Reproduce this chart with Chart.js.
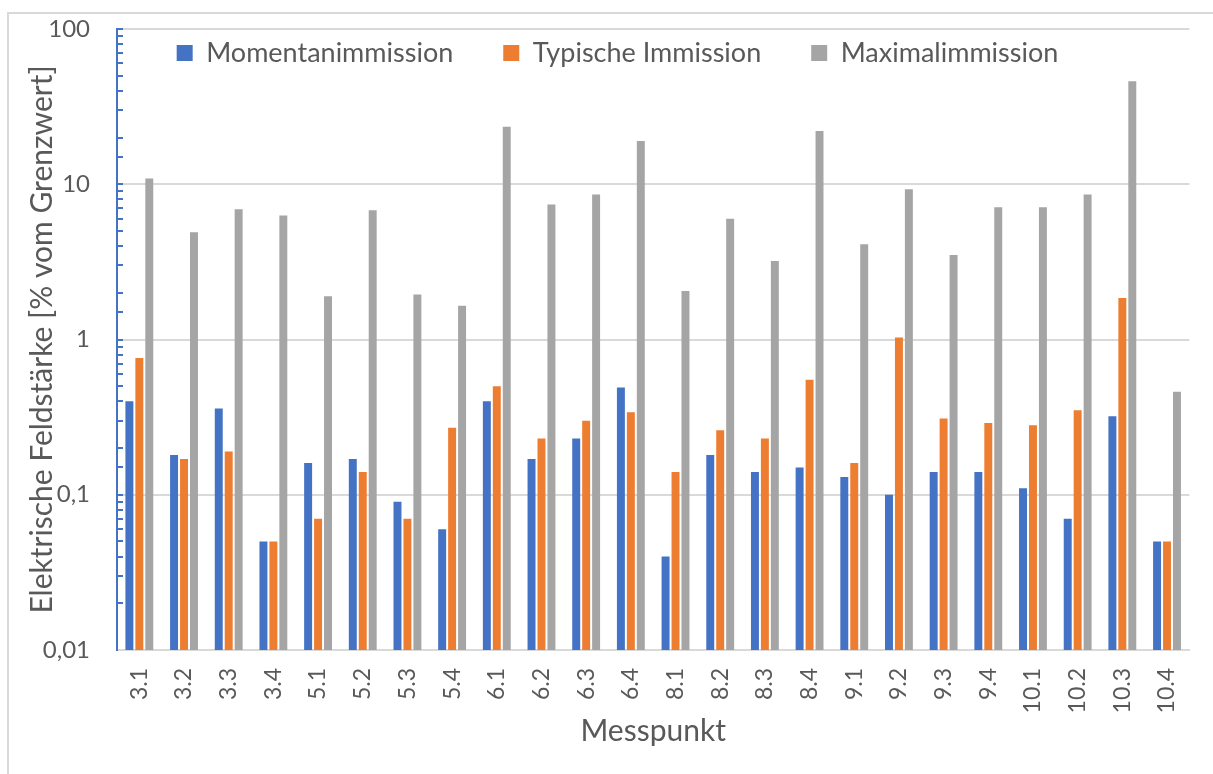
<!DOCTYPE html>
<html>
<head>
<meta charset="utf-8">
<script src="https://cdn.jsdelivr.net/npm/chart.js@4/dist/chart.umd.min.js"></script>
<style>
  body { margin: 0; background: #fff; }
  #frame {
    position: absolute; left: 7px; top: 12px; width: 1300px; height: 900px;
    border: 2px solid #d9d9d9; box-sizing: border-box;
  }
  #wrap { position: absolute; left: 0; top: 0; width: 1213px; height: 774px; }
</style>
</head>
<body>
<div id="frame"></div>
<div id="wrap"><canvas id="myChart"></canvas></div>
<script>
const labels = ["3.1", "3.2", "3.3", "3.4", "5.1", "5.2", "5.3", "5.4", "6.1", "6.2", "6.3", "6.4",
  "8.1", "8.2", "8.3", "8.4", "9.1", "9.2", "9.3", "9.4", "10.1", "10.2", "10.3", "10.4"];

const momentan = [0.4, 0.18, 0.36, 0.05, 0.16, 0.17, 0.09, 0.06, 0.4, 0.17, 0.23, 0.49,
  0.04, 0.18, 0.14, 0.15, 0.13, 0.1, 0.14, 0.14, 0.11, 0.07, 0.32, 0.05];
const typisch = [0.76, 0.17, 0.19, 0.05, 0.07, 0.14, 0.07, 0.27, 0.5, 0.23, 0.3, 0.34,
  0.14, 0.26, 0.23, 0.55, 0.16, 1.03, 0.31, 0.29, 0.28, 0.35, 1.85, 0.05];
const maximal = [10.9, 4.9, 6.9, 6.3, 1.9, 6.8, 1.95, 1.65, 23.5, 7.4, 8.6, 19,
  2.05, 6.0, 3.2, 22, 4.1, 9.3, 3.5, 7.1, 7.1, 8.6, 46, 0.46];

const yMin = 0.01;
const yMax = 100;

const textColor = "#595959";
const fontFamily = "Lato";

function isDecade(v) {
  const l = Math.log10(v);
  return Math.abs(l - Math.round(l)) < 1e-6;
}

// legend sits inside the plot area, so it takes no room in the layout
const legendInside = {
  id: "legendInside",
  beforeLayout(chart) {
    const lg = chart.legend;
    if (lg && !lg._patched) {
      const fit = lg.fit;
      lg.fit = function () {
        fit.call(this);
        this._realH = this.height;
        this.height = 0;
      };
      lg._patched = true;
    }
  },
  afterLayout(chart) {
    const lg = chart.legend;
    const pad = lg.options.labels.padding;
    const size = lg.options.labels.font.size;
    lg.left = 22;
    lg.right = 1213;
    lg.top = 53 - pad - size / 2;
    lg.height = lg._realH;
    lg.bottom = lg.top + lg.height;
    if (lg.adjustHitBoxes) lg.adjustHitBoxes();
  },
};

const data = {
  labels: labels,
  datasets: [
    { label: "Momentanimmission", data: momentan, backgroundColor: "#4472C4" },
    { label: "Typische Immission", data: typisch, backgroundColor: "#ED7D31" },
    { label: "Maximalimmission", data: maximal, backgroundColor: "#A5A5A5" },
  ],
};

const config = {
  type: "bar",
  data: data,
  plugins: [legendInside],
  options: {
    responsive: true,
    maintainAspectRatio: false,
    animation: false,
    datasets: {
      bar: { categoryPercentage: 0.668, barPercentage: 0.8 },
    },
    layout: { padding: { left: 0, right: 18, top: 0, bottom: 0 } },
    plugins: {
      legend: {
        position: "top",
        labels: {
          color: textColor,
          font: { family: fontFamily, size: 27 },
          boxWidth: 16,
          boxHeight: 16,
          padding: 50,
        },
      },
      tooltip: { enabled: false },
    },
    scales: {
      x: {
        grid: { drawOnChartArea: false, drawTicks: false },
        border: { display: true, color: "#d9d9d9", width: 2 },
        ticks: {
          color: textColor,
          font: { family: fontFamily, size: 23 },
          minRotation: 90,
          maxRotation: 90,
          autoSkip: false,
          padding: 18,
        },
        title: {
          display: true,
          text: "Messpunkt",
          color: textColor,
          font: { family: fontFamily, size: 30 },
          padding: { top: 25, bottom: 25 },
        },
        afterFit(scale) {
          scale.height = 124;
        },
      },
      y: {
        type: "logarithmic",
        min: yMin,
        max: yMax,
        grid: {
          color: (ctx) => (ctx.tick && isDecade(ctx.tick.value) ? "#d9d9d9" : "rgba(0,0,0,0)"),
          lineWidth: 2,
          tickColor: "#4472C4",
          tickLength: -6,
        },
        border: { display: true, color: "#4472C4", width: 2 },
        ticks: {
          color: textColor,
          font: { family: fontFamily, size: 24 },
          autoSkip: false,
          padding: 33,
          callback: (v) => (isDecade(v) ? String(v).replace(".", ",") : ""),
        },
        title: {
          display: true,
          text: "Elektrische Feldstärke [% vom Grenzwert]",
          color: textColor,
          font: { family: fontFamily, size: 30 },
          padding: { top: 24, bottom: 0 },
        },
        afterFit(scale) {
          scale.width = 117;
          scale.paddingTop = 29;
          scale.paddingBottom = 0;
        },
      },
    },
  },
};

const myChart = new Chart(document.getElementById("myChart"), config);
</script>
</body>
</html>
